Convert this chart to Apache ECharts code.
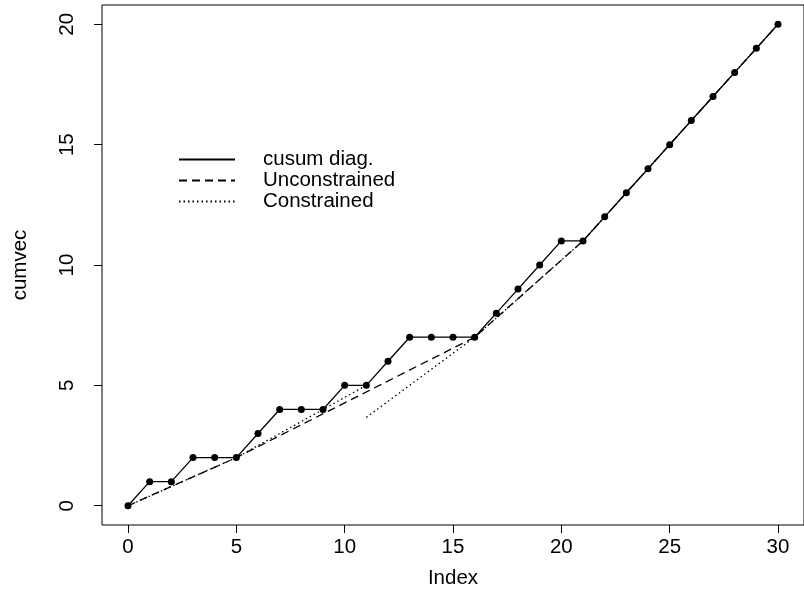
<!DOCTYPE html>
<html>
<head>
<meta charset="utf-8">
<script src="https://cdn.jsdelivr.net/npm/echarts@6/dist/echarts.min.js"></script>
<style>
  html, body { margin: 0; padding: 0; background: #fff; }
  #chart { width: 804px; height: 595px; }
</style>
</head>
<body>
<div id="chart"></div>
<script>
// cumulative sum of the diagonal, index 0..30
const cumvec = [0, 1, 1, 2, 2, 2, 3, 4, 4, 4, 5, 5, 6, 7, 7, 7, 7, 8, 9, 10, 11, 11, 12, 13, 14, 15, 16, 17, 18, 19, 20];

// unconstrained fit (knots)
const unconX = [0, 5, 16, 21, 30];
const unconY = [0, 2, 7, 11, 20];

// constrained fit, two pieces
const conAX = [0, 5, 11];
const conAY = [0, 2, 5];
const conBX = [11, 16, 21, 30];
const conBY = [3.67, 7, 11, 20];

const xTicks = [0, 5, 10, 15, 20, 25, 30];
const yTicks = [0, 5, 10, 15, 20];

const font = "'Liberation Sans', Arial, Helvetica, sans-serif";
const fs = 20.5;

const zip = (xs, ys) => xs.map((x, i) => [x, ys[i]]);

const cusumData = cumvec.map((v, i) => [i, v]);
const constrainedData = zip(conAX, conAY).concat([[conAX[conAX.length - 1], '-']], zip(conBX, conBY));

const chart = echarts.init(document.getElementById('chart'), null, { renderer: 'canvas' });

chart.setOption({
  animation: false,
  backgroundColor: '#fff',
  textStyle: { fontFamily: font, color: '#000' },
  grid: {
    left: 102, top: 5, width: 708, height: 520,
    show: true, borderColor: '#000', borderWidth: 1, backgroundColor: 'transparent'
  },
  legend: {
    orient: 'vertical',
    left: 173, top: 144,
    itemWidth: 56, itemHeight: 20, itemGap: 0,
    selectedMode: false,
    itemStyle: { opacity: 0 },
    textStyle: { fontSize: fs, lineHeight: 20, color: '#000', fontFamily: font, padding: [0, 0, 0, 23] },
    data: ['cusum diag.', 'Unconstrained', 'Constrained']
  },
  xAxis: {
    type: 'value', min: -1.2, max: 31.2,
    name: 'Index', nameLocation: 'middle', nameGap: 43,
    nameTextStyle: { fontSize: fs, color: '#000', fontFamily: font },
    axisLine: { show: false, onZero: false },
    axisTick: { show: true, length: 8, customValues: xTicks, lineStyle: { color: '#000', width: 1 } },
    axisLabel: { customValues: xTicks, fontSize: fs, color: '#000', margin: 12, fontFamily: font },
    splitLine: { show: false }
  },
  yAxis: {
    type: 'value', min: -0.8, max: 20.8,
    name: 'cumvec', nameLocation: 'middle', nameGap: 71, nameRotate: 90,
    nameTextStyle: { fontSize: fs, color: '#000', fontFamily: font },
    axisLine: { show: false, onZero: false },
    axisTick: { show: true, length: 8, customValues: yTicks, lineStyle: { color: '#000', width: 1 } },
    axisLabel: { customValues: yTicks, rotate: 90, fontSize: fs, color: '#000', margin: 24, fontFamily: font },
    splitLine: { show: false }
  },
  series: [
    {
      name: 'cusum diag.', type: 'line', data: cusumData,
      symbol: 'circle', symbolSize: 7, showSymbol: true,
      itemStyle: { color: '#000' },
      lineStyle: { color: '#000', width: 1.3, type: 'solid' }
    },
    {
      name: 'Unconstrained', type: 'line', data: zip(unconX, unconY),
      symbol: 'none', itemStyle: { color: '#000' },
      lineStyle: { color: '#000', width: 1.3, type: [8, 5] }
    },
    {
      name: 'Constrained', type: 'line', data: constrainedData,
      symbol: 'none', connectNulls: false, itemStyle: { color: '#000' },
      lineStyle: { color: '#000', width: 1.3, type: [1.5, 3] }
    }
  ]
});
</script>
</body>
</html>
